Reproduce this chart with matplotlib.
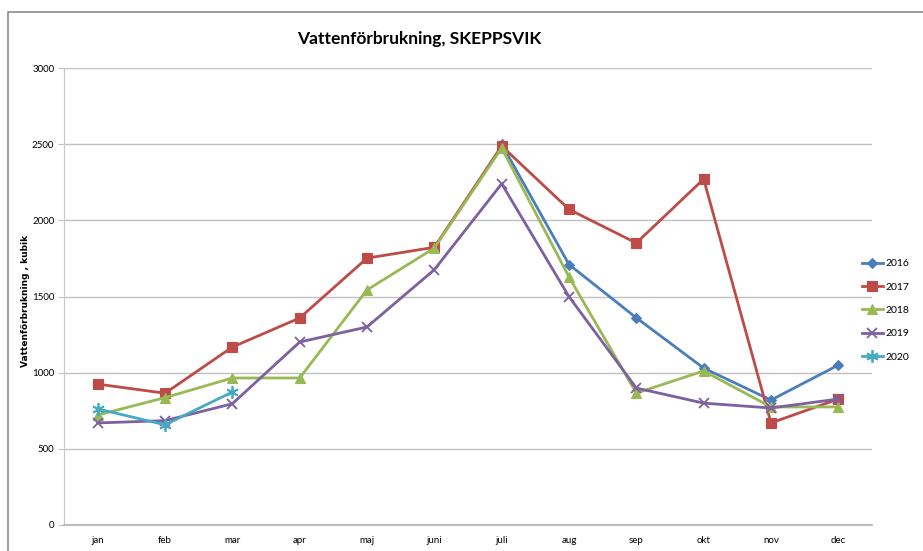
import numpy as np
import matplotlib
matplotlib.use("Agg")
import matplotlib.pyplot as plt
from matplotlib.patches import Rectangle

plt.rcParams['font.family'] = ['Lato', 'DejaVu Sans']

months = ["jan", "feb", "mar", "apr", "maj", "juni", "juli", "aug", "sep", "okt", "nov", "dec"]
nan = np.nan
y2016 = [nan, nan, nan, nan, nan, nan, 2500, 1710, 1360, 1030, 820, 1050]
y2017 = [925, 865, 1168, 1359, 1752, 1823, 2488, 2072, 1851, 2271, 670, 827]
y2018 = [722, 836, 965, 965, 1543, 1818, 2475, 1628, 866, 1011, 775, 775]
y2019 = [670, 685, 796, 1201, 1300, 1676, 2240, 1499, 899, 800, 768, 827]
y2020 = [762, 658, 873]
yticks = [0, 500, 1000, 1500, 2000, 2500, 3000]

W, H = 923, 551
fig = plt.figure(figsize=(W / 100, H / 100), dpi=100)
fig.patch.set_facecolor("white")

fig.patches.append(Rectangle((8 / W, -0.1), 1.2, (H - 12) / H + 0.1, transform=fig.transFigure,
                             fill=False, edgecolor="#8c8c8c", linewidth=1.2))

ax = fig.add_axes([64 / W, 26 / H, (872 - 64) / W, (525 - 68) / H])
x = np.arange(len(months))

series = [
    ("2016", y2016, "#4A7EBB", "D", 5),
    ("2017", y2017, "#BE4B48", "s", 7),
    ("2018", y2018, "#98B954", "^", 7),
    ("2019", y2019, "#7D60A0", "x", 7),
    ("2020", y2020, "#46AAC5", (6, 2, 0), 9),
]
for name, vals, col, mk, ms in series:
    xs = x[:len(vals)]
    ax.plot(xs, vals, color=col, lw=2.0, marker=mk, markersize=ms,
            markeredgewidth=1.3 if mk in ("x",) or isinstance(mk, tuple) else 0.8,
            markeredgecolor=col, markerfacecolor=col, label=name, zorder=3)

ax.set_xlim(-0.5, len(months) - 0.5)
ax.set_ylim(0, 3000)
ax.set_yticks(yticks)
ax.set_xticks(x)
ax.set_xticklabels(months)
ax.grid(axis="y", color="#c0c0c0", linewidth=1.0)
ax.set_axisbelow(True)
for s in ["top", "right"]:
    ax.spines[s].set_visible(False)
ax.spines["left"].set_color("#c8c8c8")
ax.spines["bottom"].set_color("#b0b0b0")
ax.spines["bottom"].set_linewidth(1.2)
ax.tick_params(axis="y", length=4, color="#c0c0c0", pad=3, labelsize=7)
ax.tick_params(axis="x", length=0, pad=8, labelsize=7)

fig.text(419 / W, 1 - 39 / H, "Vattenförbrukning, SKEPPSVIK", ha="center", va="center",
         fontsize=12.5, fontweight="bold")
fig.text(26 / W, 1 - 301 / H, "Vattenförbrukning , kubik", rotation=90, ha="center", va="center",
         fontsize=6.5, fontweight="bold", family=["DejaVu Sans"])

leg = ax.legend(loc="upper left", bbox_to_anchor=(862 / W, 1 - 259 / H), bbox_transform=fig.transFigure,
                frameon=False, fontsize=7.5, handlelength=2.0, handletextpad=0.3, labelspacing=1.35,
                borderaxespad=0, borderpad=0)

fig.savefig("out.png", dpi=100, facecolor="white")
